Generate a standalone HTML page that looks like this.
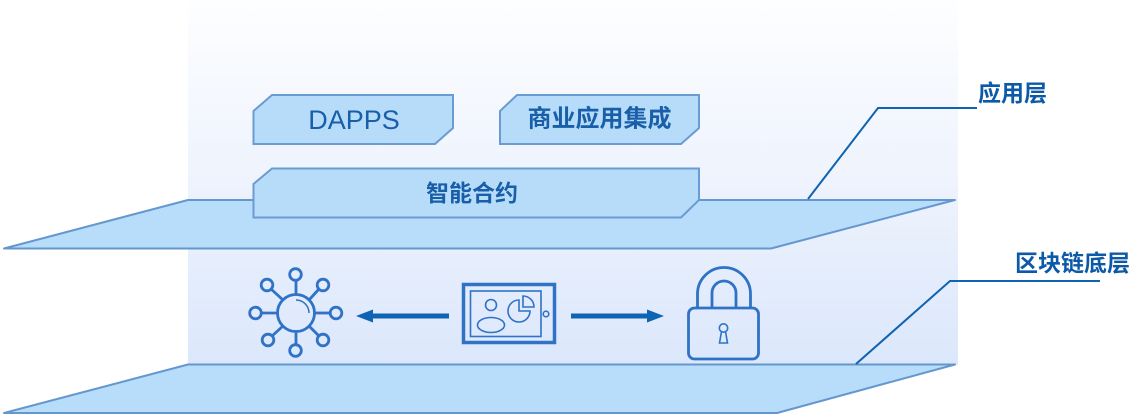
<!DOCTYPE html>
<html>
<head>
<meta charset="utf-8">
<style>
  html,body{margin:0;padding:0;background:#ffffff;}
  body{width:1132px;height:417px;overflow:hidden;}
  svg{display:block;}
  .cjk{font-family:"Liberation Sans","Noto Sans CJK SC",sans-serif;font-weight:700;}
</style>
</head>
<body>
<svg width="1132" height="417" viewBox="0 0 1132 417" xmlns="http://www.w3.org/2000/svg">
  <defs>
    <linearGradient id="bg" x1="0" y1="0" x2="0" y2="1">
      <stop offset="0" stop-color="#fdfeff"/>
      <stop offset="0.5" stop-color="#eef3fd"/>
      <stop offset="1" stop-color="#dbe7fb"/>
    </linearGradient>
  </defs>

  <!-- background panel -->
  <rect x="188" y="0" width="770" height="365" fill="url(#bg)"/>

  <!-- top plane -->
  <polygon points="188,200 955,200 771,248.5 4,248.5" fill="#b8ddfb" stroke="#6597cf" stroke-width="2" stroke-linejoin="round"/>

  <!-- bottom plane -->
  <polygon points="188,364.5 955,364.5 777,413 4,413" fill="#b8ddfb" stroke="#6597cf" stroke-width="2" stroke-linejoin="round"/>

  <!-- DAPPS box -->
  <polygon points="272,95 453,95 453,128 435,144 253.5,144 253.5,111" fill="#b7dcfa" stroke="#6a9bd3" stroke-width="2"/>
  <text x="354" y="120" font-family="Liberation Sans, sans-serif" font-size="27" fill="#195ea9" text-anchor="middle" dominant-baseline="central">DAPPS</text>

  <!-- 商业应用集成 box -->
  <polygon points="517,95 699,95 699,128 681,144 500,144 500,111" fill="#b7dcfa" stroke="#6a9bd3" stroke-width="2"/>
  <text class="cjk" x="599.5" y="119" font-size="24" fill="#195ea9" text-anchor="middle" dominant-baseline="central">商业应用集成</text>

  <!-- 智能合约 box -->
  <polygon points="272,168.5 699,168.5 699,200 681,217.5 253.5,217.5 253.5,184" fill="#b7dcfa" stroke="#6a9bd3" stroke-width="2"/>
  <text class="cjk" x="472" y="193" font-size="23" fill="#195ea9" text-anchor="middle" dominant-baseline="central">智能合约</text>

  <!-- leader lines -->
  <polyline points="808,199 878,108 977,108" fill="none" stroke="#0e63b2" stroke-width="2"/>
  <polyline points="856,364 950,281 1100,281" fill="none" stroke="#0e63b2" stroke-width="2"/>

  <!-- labels -->
  <text class="cjk" x="978" y="93" font-size="23" fill="#0c5aa7" dominant-baseline="central">应用层</text>
  <text class="cjk" x="1015" y="263" font-size="23" fill="#0c5aa7" dominant-baseline="central">区块链底层</text>

  <!-- network icon -->
  <g fill="none" stroke="#2f72c6" stroke-width="2.8">
    <circle cx="296" cy="313" r="18.5"/>
    <path d="M296,300 A13,13 0 0,1 309,313" stroke-width="1.5"/>
    <!-- spokes -->
    <line x1="296" y1="294.5" x2="296" y2="280"/>
    <line x1="296" y1="331.5" x2="296" y2="345"/>
    <line x1="277.5" y1="313" x2="261" y2="313"/>
    <line x1="314.5" y1="313" x2="330" y2="313"/>
    <line x1="283" y1="300" x2="271" y2="289"/>
    <line x1="309" y1="300" x2="319" y2="289"/>
    <line x1="283" y1="326" x2="272" y2="336"/>
    <line x1="309" y1="326" x2="319" y2="336"/>
    <!-- nodes -->
    <circle cx="295.5" cy="274.5" r="5.8"/>
    <circle cx="295.5" cy="350.5" r="5.8"/>
    <circle cx="255.5" cy="313" r="5.8"/>
    <circle cx="336" cy="313" r="5.8"/>
    <circle cx="267" cy="285" r="5.8"/>
    <circle cx="323" cy="285" r="5.8"/>
    <circle cx="268" cy="340" r="5.8"/>
    <circle cx="323" cy="340" r="5.8"/>
  </g>

  <!-- left arrow -->
  <rect x="370" y="313.5" width="79" height="5" fill="#0e63b2"/>
  <polygon points="356,316 373,309.5 373,322.5" fill="#0e63b2"/>

  <!-- tablet icon -->
  <g fill="none" stroke="#2f72c6">
    <rect x="463.5" y="284.5" width="91" height="58" stroke-width="3.5"/>
    <rect x="470.5" y="291" width="70.5" height="45.5" stroke-width="1.6"/>
    <circle cx="546" cy="314" r="2.8" stroke-width="1.6"/>
    <circle cx="491" cy="305" r="5.5" stroke-width="1.6"/>
    <ellipse cx="491" cy="325" rx="13.5" ry="7.5" stroke-width="1.6"/>
    <path d="M519,311 L519,300 A11,11 0 1,0 530,311 Z" stroke-width="1.6"/>
    <path d="M523,307 L523,296 A11,11 0 0,1 534,307 Z" stroke-width="1.6"/>
  </g>

  <!-- right arrow -->
  <rect x="571" y="313.5" width="78" height="5" fill="#0e63b2"/>
  <polygon points="664,316 647,309.5 647,322.5" fill="#0e63b2"/>

  <!-- lock icon -->
  <g fill="none" stroke="#2f72c6" stroke-width="2.8">
    <path d="M697.5,308 V294 A26.5,26.5 0 0,1 750.5,294 V308"/>
    <path d="M712,308 V293 A12,12 0 0,1 736,293 V308"/>
    <rect x="688.5" y="308" width="70" height="51" rx="6"/>
    <circle cx="723.5" cy="328" r="4.2" stroke-width="1.6"/>
    <path d="M721.5,331.5 L719.5,343 L727.5,343 L725.5,331.5" stroke-width="1.6"/>
  </g>
</svg>
</body>
</html>
